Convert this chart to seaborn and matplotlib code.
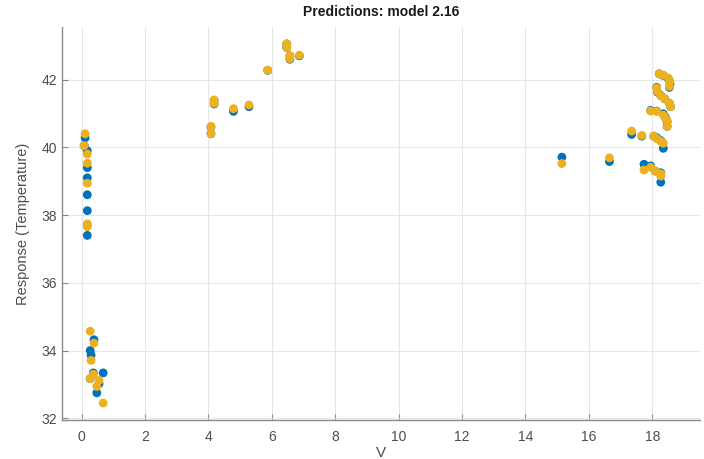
import numpy as np
import pandas as pd
import matplotlib
matplotlib.use("Agg")
import matplotlib.pyplot as plt
import seaborn as sns

# Predictor value for each observation
v = [
    0.11, 0.08, 0.18, 0.18, 0.18, 0.18, 0.18, 0.18,
    0.39, 0.27, 0.30, 0.37, 0.68, 0.55, 0.48, 0.27,
    4.08, 4.08, 4.18, 4.18, 4.79, 5.28, 5.87, 6.47, 6.47, 6.57, 6.57, 6.87,
    15.15, 16.65, 17.35, 17.67,
    18.05, 18.15, 18.27, 18.35,
    17.74, 17.95, 18.09, 18.27, 18.27,
    17.95, 18.14, 18.35, 18.42, 18.47, 18.47,
    18.14, 18.16, 18.27, 18.40, 18.54, 18.58,
    18.22, 18.35, 18.51, 18.56, 18.54,
]

# Measured response (temperature)
true_temp = [
    40.28, 40.05, 39.90, 39.40, 39.10, 38.60, 38.13, 37.40,
    34.32, 34.00, 33.86, 33.34, 33.34, 33.02, 32.75, 33.17,
    40.40, 40.60, 41.28, 41.38, 41.06, 41.20, 42.27, 42.95, 43.05, 42.60, 42.70, 42.70,
    39.71, 39.58, 40.38, 40.33,
    40.33, 40.28, 40.20, 39.97,
    39.50, 39.45, 39.30, 38.97, 39.25,
    41.09, 41.07, 40.99, 40.88, 40.75, 40.62,
    41.77, 41.63, 41.53, 41.43, 41.30, 41.20,
    42.17, 42.12, 42.02, 41.87, 41.77,
]

# Model 2.16 predicted response
pred_temp = [
    40.40, 40.05, 39.80, 39.53, 38.94, 37.74, 37.66, 37.70,
    34.22, 34.57, 33.71, 33.30, 32.45, 33.12, 32.94, 33.17,
    40.40, 40.62, 41.30, 41.40, 41.14, 41.25, 42.28, 42.95, 43.06, 42.62, 42.70, 42.72,
    39.52, 39.69, 40.48, 40.35,
    40.33, 40.25, 40.18, 40.12,
    39.33, 39.41, 39.30, 39.22, 39.15,
    41.07, 41.06, 40.95, 40.85, 40.79, 40.62,
    41.75, 41.65, 41.53, 41.43, 41.30, 41.20,
    42.17, 42.13, 42.04, 41.95, 41.80,
]

x_ticks = [0, 2, 4, 6, 8, 10, 12, 14, 16, 18]
y_ticks = [32, 34, 36, 38, 40, 42]

df = pd.concat([
    pd.DataFrame({"V": v, "Temperature": true_temp, "kind": "True"}),
    pd.DataFrame({"V": v, "Temperature": pred_temp, "kind": "Predicted"}),
], ignore_index=True)

sns.set_theme(style="whitegrid")
plt.rcParams["font.family"] = ["Liberation Sans", "DejaVu Sans"]

fig = plt.figure(figsize=(7.04, 4.59), dpi=100)
ax = fig.add_axes([0.088, 0.085, 0.906, 0.856])

sns.scatterplot(
    data=df, x="V", y="Temperature", hue="kind",
    palette={"True": "#0072BD", "Predicted": "#EDB120"},
    s=40, linewidth=0, alpha=1.0, legend=False, ax=ax,
)

ax.set_xlim(-0.62, 19.5)
ax.set_ylim(31.95, 43.55)
ax.set_xticks(x_ticks)
ax.set_yticks(y_ticks)
ax.grid(True, color="#e6e6e6", linewidth=0.8)
ax.set_facecolor("white")

for side in ("top", "right"):
    ax.spines[side].set_visible(False)
for side in ("left", "bottom"):
    ax.spines[side].set_visible(True)
    ax.spines[side].set_color("#8a8a8a")
    ax.spines[side].set_linewidth(1.0)

ax.tick_params(axis="both", direction="in", length=4, width=0.8,
               colors="#8a8a8a", labelcolor="#4d4d4d", labelsize=10,
               bottom=True, left=True)
ax.tick_params(axis="x", pad=7)

ax.set_xlabel("V", fontsize=11, color="#4d4d4d", labelpad=2)
ax.set_ylabel("Response (Temperature)", fontsize=10.5, color="#4d4d4d", labelpad=8)
ax.set_title("Predictions: model 2.16", fontsize=10, fontweight="bold",
             color="#1a1a1a", pad=8)

fig.savefig("out.png", dpi=100)
